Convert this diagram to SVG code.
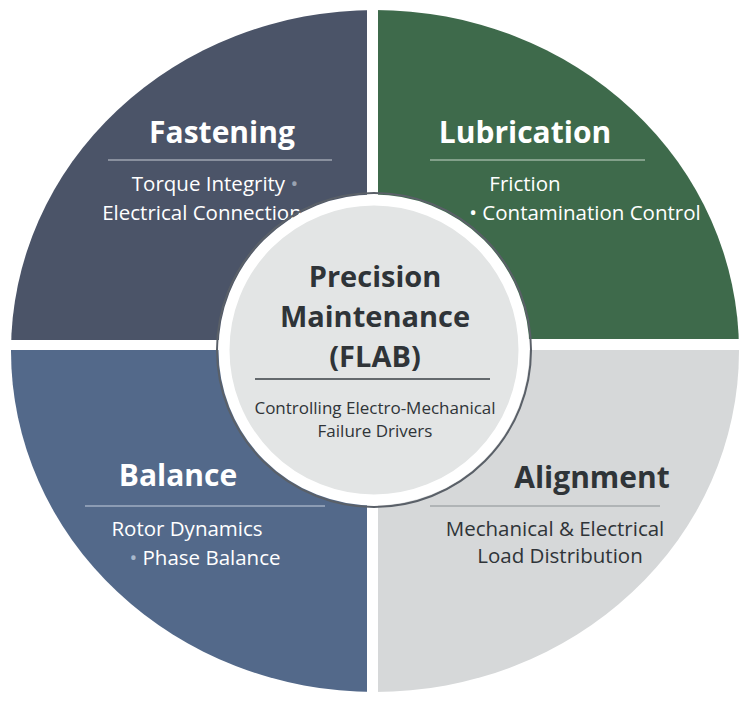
<svg xmlns="http://www.w3.org/2000/svg" width="750" height="704" viewBox="0 0 750 704">
<style>
.h{font-family:"Open Sans","Liberation Sans",Arial,sans-serif;font-weight:bold;font-size:30px;text-anchor:middle}
.b{font-family:"Open Sans","Liberation Sans",Arial,sans-serif;font-size:20.5px;text-anchor:middle}
.w{fill:#ffffff}.d{fill:#2f3438}
.ln{stroke-width:1.2}
</style>
<defs><clipPath id="c"><ellipse cx="375" cy="351" rx="364" ry="341"/></clipPath></defs>
<rect width="750" height="704" fill="#fff"/>
<g clip-path="url(#c)">
<g id="fastening"><rect x="0" y="0" width="367" height="340" rx="6" fill="#4b5468"/></g>
<g id="lubrication"><rect x="378" y="0" width="372" height="339" rx="6" fill="#3e6a4b"/></g>
<g id="balance"><rect x="0" y="350" width="367" height="354" rx="6" fill="#53698a"/></g>
<g id="alignment"><rect x="378" y="350" width="372" height="354" rx="6" fill="#d6d8d9"/></g>
</g>
<g id="fastening-text">
<text class="h w" x="222" y="143">Fastening</text>
<line class="ln" x1="108" y1="160" x2="332" y2="160" stroke="#c8ccd4"/>
<text class="b w" x="215" y="191">Torque Integrity <tspan fill="#9aa2b0">•</tspan></text>
<text class="b w" x="202" y="220">Electrical Connection</text>
</g>
<g id="lubrication-text">
<text class="h w" x="525" y="143">Lubrication</text>
<line class="ln" x1="430" y1="160" x2="645" y2="160" stroke="#c6d6ca"/>
<text class="b w" x="525" y="191">Friction</text>
<text class="b w" x="585" y="220">• Contamination Control</text>
</g>
<g id="balance-text">
<text class="h w" x="178" y="486">Balance</text>
<line class="ln" x1="85" y1="506" x2="325" y2="506" stroke="#c6d0de"/>
<text class="b w" x="187" y="536">Rotor Dynamics</text>
<text class="b w" x="205" y="565"><tspan fill="#a8b8cc">•</tspan> Phase Balance</text>
</g>
<g id="alignment-text">
<text class="h d" x="592" y="488">Alignment</text>
<line class="ln" x1="430" y1="506" x2="660" y2="506" stroke="#8a8f94"/>
<text class="b d" x="555" y="536">Mechanical &amp; Electrical</text>
<text class="b d" x="560" y="563">Load Distribution</text>
</g>
<g id="center">
<circle cx="374" cy="350" r="157" fill="none" stroke="#5a6068" stroke-width="2"/>
<circle cx="374" cy="350" r="150" fill="#e3e5e5" stroke="#ffffff" stroke-width="11"/>
<text class="h d" x="375" y="287" style="font-size:29px">Precision</text>
<text class="h d" x="375" y="327" style="font-size:29px">Maintenance</text>
<text class="h d" x="375" y="367" style="font-size:29px">(FLAB)</text>
<line x1="255" y1="379" x2="490" y2="379" stroke="#3a3f44" stroke-width="1.5"/>
<text class="b d" x="375" y="414" style="font-size:17px">Controlling Electro-Mechanical</text>
<text class="b d" x="375" y="437" style="font-size:17px">Failure Drivers</text>
</g>
<g id="connectors"/>
</svg>
